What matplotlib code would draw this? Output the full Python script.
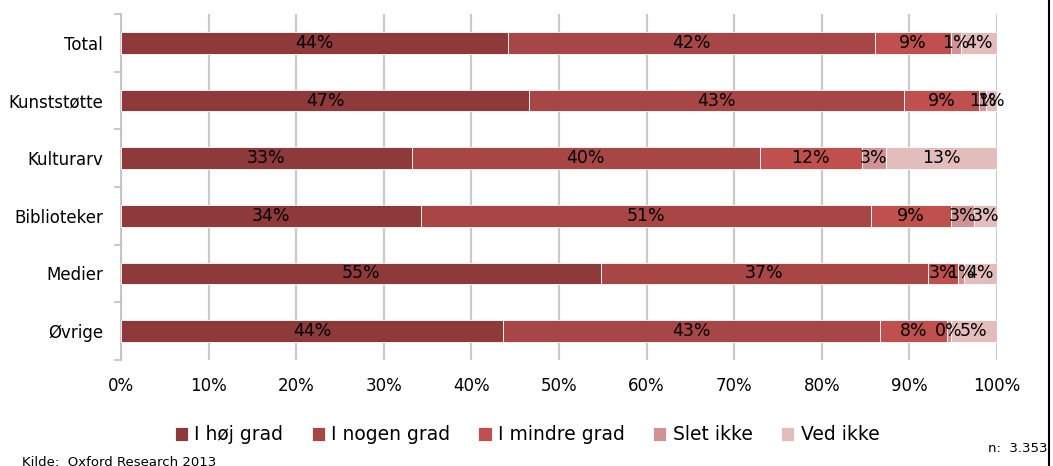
import matplotlib
matplotlib.use("Agg")
import matplotlib.pyplot as plt
import numpy as np

categories = ["Total", "Kunststøtte", "Kulturarv", "Biblioteker", "Medier", "Øvrige"]
series_names = ["I høj grad", "I nogen grad", "I mindre grad", "Slet ikke", "Ved ikke"]
hoj_grad = [44.2, 46.6, 33.2, 34.2, 54.8, 43.6]
nogen_grad = [41.9, 42.8, 39.7, 51.4, 37.3, 43.0]
mindre_grad = [8.6, 8.6, 11.7, 9.1, 3.4, 7.7]
slet_ikke = [1.2, 0.7, 2.7, 2.7, 0.7, 0.4]
ved_ikke = [4.1, 1.3, 12.7, 2.6, 3.8, 5.3]
x_ticks = [0, 10, 20, 30, 40, 50, 60, 70, 80, 90, 100]
colors = ["#8E3A3A", "#A84645", "#C0504D", "#D09292", "#E3BCBC"]

plt.rcParams["font.family"] = ["DejaVu Sans"]

fig = plt.figure(figsize=(10.53, 4.66), dpi=100)
ax = fig.add_axes([121 / 1053, 1 - 360 / 466, 876 / 1053, 346 / 466])

series = [hoj_grad, nogen_grad, mindre_grad, slet_ikke, ved_ikke]
y = np.arange(len(categories))
left = np.zeros(len(categories))
for name, vals, col in zip(series_names, series, colors):
    vals = np.array(vals, dtype=float)
    ax.barh(y, vals, left=left, height=0.38, color=col, edgecolor="white",
            linewidth=0.6, label=name, zorder=3)
    for yi, l, v in zip(y, left, vals):
        ax.text(l + v / 2, yi, f"{v:.0f}%", ha="center", va="center",
                fontsize=12.5, color="black", zorder=4)
    left += vals

ax.set_xlim(0, 100)
ax.set_ylim(len(categories) - 0.5, -0.5)
ax.set_xticks(x_ticks)
ax.set_xticklabels([f"{t}%" for t in x_ticks], fontsize=12)
ax.set_yticks(y)
ax.set_yticklabels(categories, fontsize=12)
ax.set_yticks(np.arange(-0.5, len(categories), 1), minor=True)
ax.tick_params(axis="y", which="major", length=0, pad=13)
ax.tick_params(axis="y", which="minor", length=5, color="#BFBFBF", width=1.2)
ax.tick_params(axis="x", length=0, pad=12)
ax.grid(axis="x", color="#CACACA", linewidth=1.6, zorder=0)
for s in ["top", "right", "bottom"]:
    ax.spines[s].set_visible(False)
ax.spines["left"].set_color("#BFBFBF")
ax.spines["left"].set_linewidth(1.2)

handles, labels = ax.get_legend_handles_labels()
leg = fig.legend(handles, labels, loc="center", bbox_to_anchor=(527 / 1053, 1 - 435 / 466),
                 ncol=5, frameon=False, fontsize=13.5, handlelength=0.7, handleheight=0.7,
                 handletextpad=0.35, columnspacing=1.5)

fig.text(22 / 1053, 1 - 462 / 466, "Kilde:  Oxford Research 2013", fontsize=9.5,
         ha="left", va="center")
fig.text(1047 / 1053, 1 - 448 / 466, "n:  3.353", fontsize=9.5, ha="right", va="center")
fig.add_artist(plt.Line2D([1049 / 1053, 1049 / 1053], [0, 1], color="black",
                          linewidth=1.5, transform=fig.transFigure))

fig.savefig("out.png", dpi=100)
